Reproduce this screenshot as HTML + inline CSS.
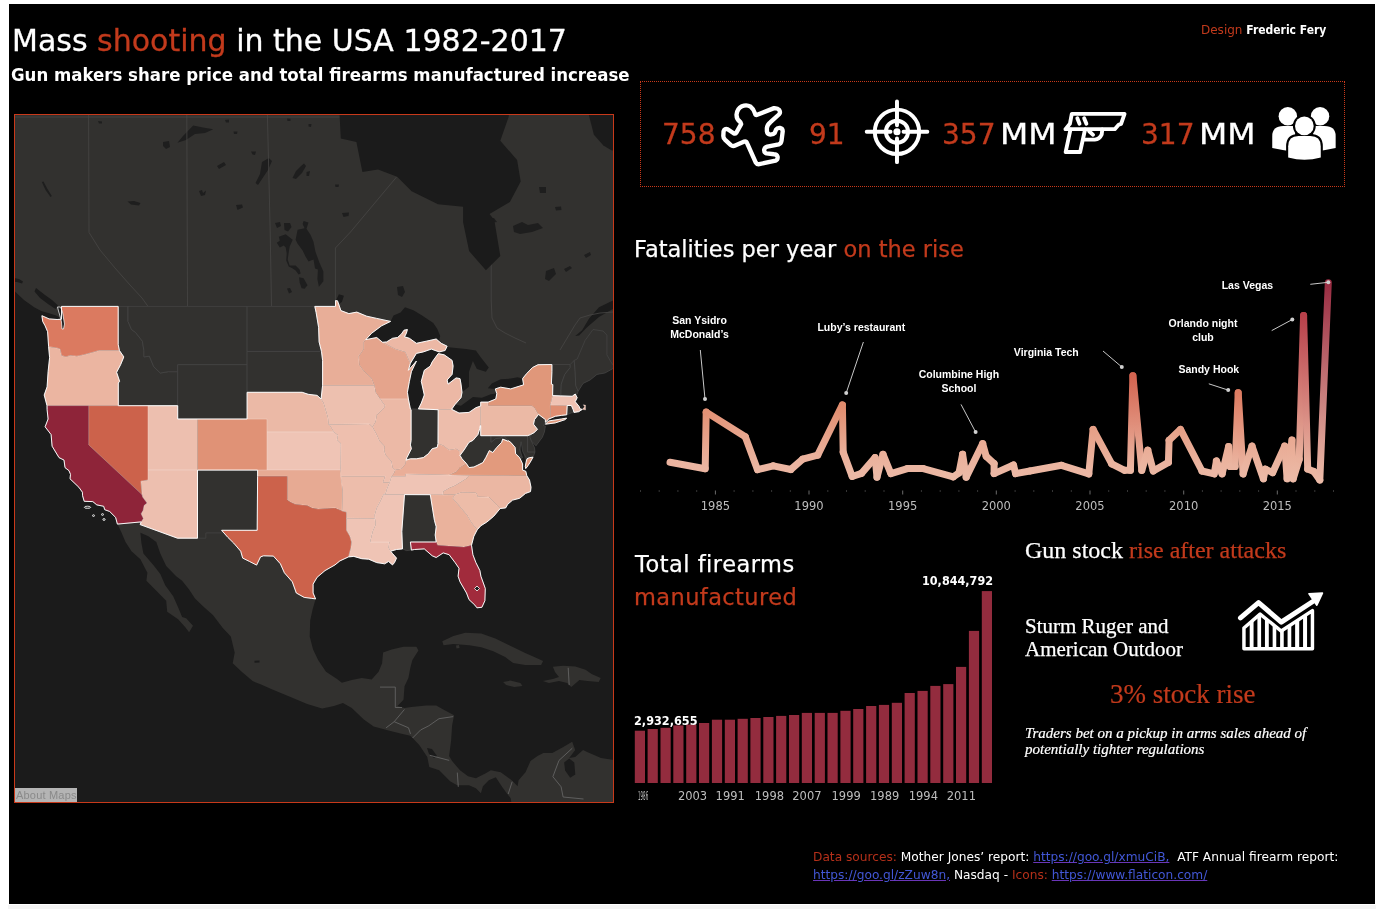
<!DOCTYPE html>
<html><head><meta charset="utf-8">
<style>
html,body{margin:0;padding:0;background:#fff;width:1395px;height:909px;overflow:hidden}
#dash{position:absolute;left:9px;top:4px;width:1366px;height:900px;background:#000}
#strip{position:absolute;left:8px;top:905px;width:1368px;height:4px;background:#f4f4f4}
.t{position:absolute;white-space:nowrap;font-family:"DejaVu Sans","Liberation Sans",sans-serif;color:#fff;line-height:1}
.r{color:#c23a1c}
.serif{font-family:"Liberation Serif","Times New Roman",serif}
</style></head><body>
<div id="dash"></div>
<div id="strip"></div>
<svg width="600" height="689" viewBox="0 0 600 689" style="position:absolute;left:14px;top:114px">
<rect width="600" height="689" fill="#1b1b1b"/>
<path d="M670.4,-38.0L670.4,170.9L606.8,183.3L597.9,187.1L585.0,193.2L575.1,204.4L568.1,216.2L561.2,222.1L565.1,221.4L573.1,213.3L585.0,202.9L597.9,195.4L610.8,190.9L627.7,193.9L670.4,236.5L600.9,253.5L591.0,259.0L583.0,260.4L576.1,266.0L569.1,269.4L564.2,277.2L563.2,280.0L563.2,283.7L561.2,287.7L565.1,292.4L566.1,294.9L571.6,296.1L571.6,291.1L569.1,290.7L570.6,292.8L568.1,295.5L564.7,297.7L560.0,298.4L557.2,299.0L552.7,300.8L547.3,301.4L541.3,302.3L534.8,305.0L531.4,308.3L529.4,311.5L531.4,312.2L530.4,318.0L528.4,323.2L522.0,331.8L517.5,327.1L520.5,333.7L521.0,337.9L519.1,343.2L515.0,349.9L511.7,354.2L511.5,348.6L509.6,339.8L508.1,327.7L506.6,333.4L507.6,341.1L508.6,348.6L508.6,356.1L511.8,357.3L512.8,361.7L515.5,366.0L517.0,373.3L516.5,377.6L511.5,379.4L505.6,384.3L498.6,386.1L493.7,390.3L491.7,393.9L486.2,394.5L479.8,402.2L472.8,408.1L466.9,411.7L463.2,415.8L459.9,422.2L457.5,431.2L458.9,440.7L461.9,448.6L465.9,456.6L466.9,462.2L471.3,474.5L470.9,486.7L467.9,493.3L462.9,493.8L460.9,491.1L455.0,485.6L452.5,479.0L446.0,467.8L444.1,462.2L445.0,454.3L441.1,448.6L435.1,440.7L429.2,438.9L422.2,443.5L418.2,441.8L410.3,434.9L400.4,435.5L397.4,436.1L392.4,436.6L388.5,434.9L382.5,435.5L376.6,437.2L378.5,439.5L382.5,444.1L380.5,448.6L378.5,450.9L374.6,447.5L370.6,449.8L362.7,448.6L354.7,445.2L347.8,444.7L339.8,442.4L334.5,442.9L325.9,446.9L321.0,450.9L311.0,456.6L303.1,463.3L299.1,470.1L299.1,479.0L301.6,484.9L298.6,495.5L296.2,506.4L295.7,522.6L299.1,535.4L304.1,546.1L312.0,557.7L323.0,565.0L327.9,568.7L337.8,566.0L347.8,564.0L357.7,565.5L364.6,557.7L368.1,549.2L369.1,538.6L377.6,535.4L389.5,532.8L402.4,532.8L404.4,536.5L398.4,546.1L396.4,553.4L394.4,564.0L390.5,572.3L389.5,585.8L383.5,592.0L390.5,594.1L397.4,593.0L412.3,591.5L422.2,591.5L430.2,596.1L440.1,601.3L438.1,611.5L437.1,626.8L435.1,642.0L438.1,647.1L446.0,656.2L454.0,662.2L461.9,664.2L471.8,659.2L476.8,656.2L486.7,658.2L497.7,666.2L503.6,672.2L504.6,666.2L511.5,658.2L516.5,647.1L523.5,642.0L529.4,639.0L538.3,639.0L549.3,632.9L558.2,627.8L561.2,636.0L555.2,644.1L561.2,643.1L569.1,636.0L573.1,638.0L587.0,644.1L600.9,646.1L670.4,646.1L670.4,751.9L471.8,751.9L491.7,727.1L496.7,712.2L498.6,697.2L496.7,684.2L492.7,679.2L487.7,672.2L481.8,663.2L474.8,666.2L468.9,672.2L466.9,679.2L461.9,674.2L455.0,671.2L443.1,671.2L436.1,667.2L425.2,656.2L415.3,653.1L413.3,643.1L405.3,630.9L396.4,621.7L387.5,619.7L374.6,616.6L359.7,612.6L349.8,605.4L337.8,594.1L328.9,588.9L320.0,592.0L308.1,594.6L293.2,590.0L278.3,583.7L258.4,575.4L246.5,570.2L238.6,567.1L227.7,557.7L218.7,549.2L220.7,538.6L216.8,522.6L208.8,514.0L198.9,501.0L189.0,492.2L181.0,484.5L175.1,475.6L168.1,466.7L162.2,462.2L152.2,452.0L146.3,439.5L142.3,428.0L134.4,422.2L126.4,418.7L127.4,429.1L129.4,439.5L139.3,450.9L146.3,460.0L151.2,471.2L159.2,482.3L164.1,493.3L168.1,503.1L172.1,504.2L179.0,511.8L175.1,518.3L171.1,512.9L164.1,505.3L153.2,497.7L152.2,486.7L142.3,476.7L132.4,466.7L133.4,458.8L126.4,445.2L117.5,437.2L111.5,428.0L107.6,418.7L103.4,410.1L101.6,403.4L95.7,397.5L90.7,395.7L89.7,392.3L82.8,390.9L78.8,387.6L70.2,387.3L68.6,381.8L68.4,378.2L64.9,373.3L56.0,364.8L56.5,360.4L55.0,356.7L51.0,353.6L50.0,346.1L45.0,343.6L38.1,332.2L37.1,320.6L31.1,312.8L34.1,305.0L33.1,295.7L33.0,291.7L30.2,281.0L33.1,272.8L34.1,257.7L35.6,243.6L34.6,232.6L34.1,225.0L33.6,217.7L31.1,211.8L28.7,207.4L27.9,201.7L35.1,204.9L43.1,205.5L47.5,205.2L45.0,202.9L42.1,201.4L35.1,199.2L27.2,196.9L20.2,193.2L10.3,186.3L0.4,177.1L-8.6,166.2L-24.4,153.6L-123.7,41.5L-123.7,-38.0Z" fill="#32312f"/>
<path d="M428.3,527.2L439.4,522.0L451.4,518.8L467.3,519.6L481.3,524.4L495.2,531.2L511.2,539.1L523.1,544.3L529.1,547.1L527.1,551.1L511.2,551.1L499.2,549.1L491.2,543.1L479.3,537.2L467.3,533.2L455.4,531.2L439.4,530.0L429.5,531.2Z" fill="#32312f"/>
<path d="M538.9,552.8L549.1,551.8L561.3,552.4L571.5,555.8L577.6,559.9L586.7,564.0L584.7,568.1L573.5,567.0L565.4,566.0L557.3,573.1L553.2,569.1L545.0,567.0L534.9,569.1L528.8,567.0L538.9,565.0L545.0,563.0L541.0,557.9Z" fill="#32312f"/>
<path d="M489.1,568.1L496.2,566.6L506.4,569.1L508.4,572.1L500.3,573.1L492.1,571.1Z" fill="#32312f"/>
<path d="M442.0,531.5L445.0,531.0L445.5,534.0L442.5,534.5Z" fill="#32312f"/>
<path d="M550.1,648.4L555.2,644.4L560.3,648.4L561.3,660.6L556.2,663.7L551.1,656.6Z" fill="#1b1b1b"/>
<path d="M240.5,546.8L245.5,546.5L245.5,548.5L240.5,548.8Z" fill="#1b1b1b"/>
<path d="M413.0,634.0L418.0,635.0L423.0,642.0L420.0,644.0L415.0,640.0Z" fill="#1b1b1b"/>
<path d="M366.0,573.1L381.3,573.1L381.3,593.5L388.0,593.5M398.6,624.0L406.7,615.9L414.8,611.8L425.0,604.7L439.2,602.6M372.1,613.8L380.2,607.7L390.4,595.5M380.2,607.7L394.5,613.8L396.5,619.9M415.8,641.3L435.2,646.4M443.3,658.6L444.3,672.8M498.2,667.7L494.2,680.0M558.3,634.2L545.0,646.4L538.9,662.7L547.1,672.8L549.1,683.0L569.5,685.0M554.2,553.8L555.2,571.1" fill="none" stroke="#6a6a6a" stroke-width="0.8"/>
<path d="M289.6,106.9L294.5,108.4L292.5,114.8L296.5,120.8L299.5,127.7L301.4,137.6L305.4,148.5L309.4,157.4L309.4,167.3L304.9,172.7L303.4,165.3L303.9,155.4L301.0,154.4L299.5,145.5L294.5,147.5L291.5,142.5L288.6,136.6L283.6,129.7L281.6,125.7L283.6,115.8L290.6,114.3L288.6,109.9Z" fill="#1e1e1e"/>
<path d="M264.8,122.7L271.7,120.3L278.7,125.7L275.7,132.6L274.7,138.6L273.7,145.5L275.7,151.4L281.6,151.4L285.6,155.4L286.6,159.4L284.6,160.4L281.6,156.4L278.7,154.4L274.7,152.4L272.2,146.5L272.7,139.6L271.7,133.6L269.8,131.6L265.8,133.6L262.8,128.7L265.8,126.7Z" fill="#1e1e1e"/>
<path d="M285.1,163.3L289.6,164.3L293.5,171.2L290.6,174.7L287.6,174.2L285.6,168.3Z" fill="#1e1e1e"/>
<path d="M261.0,109.0L266.0,108.0L267.0,112.0L263.0,114.0Z" fill="#1e1e1e"/>
<path d="M270.0,109.0L276.0,109.0L277.5,113.0L274.0,117.5L270.5,116.0Z" fill="#1e1e1e"/>
<path d="M273.0,174.5L276.0,174.0L278.0,178.0L275.0,179.5Z" fill="#1e1e1e"/>
<path d="M163.4,28.8L169.0,22.0L179.2,11.6L189.0,13.5L199.3,15.2L191.0,19.0L181.0,20.0L172.0,26.0Z" fill="#1e1e1e"/>
<path d="M149.0,28.0L155.0,27.0L156.0,33.0L152.0,35.0L149.0,32.0Z" fill="#1e1e1e"/>
<path d="M254.8,43.9L258.0,47.0L254.0,56.0L250.0,62.0L244.0,71.0L241.5,69.0L246.0,60.0L248.0,48.0Z" fill="#1e1e1e"/>
<path d="M290.0,49.6L292.0,52.0L288.0,59.0L282.0,65.0L278.5,64.0L282.0,57.0L287.0,52.0Z" fill="#1e1e1e"/>
<path d="M203.0,52.0L210.0,48.0L212.0,51.0L205.0,55.0Z" fill="#1e1e1e"/>
<path d="M113.5,87.5L120.0,87.0L126.5,89.0L125.0,91.5L117.0,90.5Z" fill="#1e1e1e"/>
<path d="M27.8,68.0L29.5,67.5L33.5,75.0L37.8,82.0L36.5,83.0L31.5,76.0Z" fill="#1e1e1e"/>
<path d="M237.0,37.5L242.0,37.5L241.0,41.0L238.5,40.5Z" fill="#1e1e1e"/>
<path d="M222.0,91.0L228.0,90.5L229.0,93.5L223.5,96.0Z" fill="#1e1e1e"/>
<path d="M328.0,99.0L335.0,98.5L334.5,102.0L329.5,103.0Z" fill="#1e1e1e"/>
<path d="M185.0,77.0L188.0,76.0L189.0,79.0L192.0,76.5L191.0,81.0L187.0,82.0Z" fill="#1e1e1e"/>
<path d="M219.5,17.5L223.5,17.5L223.0,20.0L220.0,20.0Z" fill="#1e1e1e"/>
<path d="M292.5,58.0L296.0,57.0L295.0,62.0L292.5,62.0Z" fill="#1e1e1e"/>
<path d="M84.0,7.0L88.0,7.5L88.0,9.5L85.0,9.5Z" fill="#1e1e1e"/>
<path d="M211.0,6.0L215.0,5.5L215.0,8.5L212.0,8.5Z" fill="#1e1e1e"/>
<path d="M273.0,4.5L276.5,4.8L276.5,7.0L273.5,7.0Z" fill="#1e1e1e"/>
<path d="M294.5,10.0L297.5,10.0L297.0,13.0L294.5,12.5Z" fill="#1e1e1e"/>
<path d="M321.0,70.5L325.0,70.5L324.5,73.0L321.5,73.0Z" fill="#1e1e1e"/>
<path d="M474.0,105.0L480.0,104.0L483.0,108.0L476.0,109.0Z" fill="#1e1e1e"/>
<path d="M525.0,73.0L532.0,73.0L532.0,79.0L526.0,79.0Z" fill="#1e1e1e"/>
<path d="M499.0,112.0L508.0,108.0L514.0,111.0L524.0,109.0L529.0,114.0L518.0,118.0L506.0,120.0L500.0,118.0Z" fill="#1e1e1e"/>
<path d="M532.0,157.0L540.0,154.0L542.0,160.0L535.0,167.0L531.0,165.0Z" fill="#1e1e1e"/>
<path d="M541.0,93.0L547.0,92.5L547.5,96.0L542.0,96.5Z" fill="#1e1e1e"/>
<path d="M383.0,173.0L389.0,172.0L391.0,178.0L388.0,183.0L384.0,181.0Z" fill="#1e1e1e"/>
<path d="M550.0,155.0L556.0,152.0L558.0,154.0L552.0,158.0Z" fill="#1e1e1e"/>
<path d="M570.0,141.0L576.0,138.0L577.0,141.0L572.0,144.0Z" fill="#1e1e1e"/>
<path d="M0.0,3.0L325.8,3.0M74.6,0.0L75.0,118.4L86.0,136.0L101.0,154.0L116.0,171.0L128.0,184.0L133.7,192.0M172.8,0.0L173.5,192.0M253.4,0.0L256.2,118.0L257.5,192.0M321.4,192.0L321.4,134.0L336.5,118.0L382.4,63.2M477.2,148.0L477.2,186.0L478.0,204.0L483.0,214.0L491.0,219.0L501.0,224.0L512.0,229.0M546.0,236.0L552.0,226.0L561.0,211.0L566.0,204.0L576.0,201.0L586.0,199.0L599.0,198.0" fill="none" stroke="#474645" stroke-width="0.8"/>
<path d="M325.6,-2.0L325.6,1.6L326.8,24.4L342.4,28.0L348.4,58.0L364.0,55.6L383.2,62.8L397.6,77.2L424.0,90.3L449.1,92.7L449.1,108.3L455.1,137.1L471.9,156.3L486.3,141.9L480.3,106.0L475.5,100.0L495.9,88.0L506.7,67.6L503.1,46.0L486.3,26.8L494.7,2.8L495.0,-2.0Z" fill="#1b1b1b"/>
<path d="M575.0,-2.0L575.0,1.6L579.9,20.8L589.4,31.6L597.8,36.4L602.0,36.0L602.0,-2.0Z" fill="#1b1b1b"/>
<path d="M22.0,174.0L31.0,181.0L38.0,186.0L44.0,191.5L41.5,195.0L34.0,190.0L26.0,184.0L20.5,177.5Z" fill="#1b1b1b"/>
<path d="M0.0,164.0L5.0,165.0L9.0,167.5L8.0,169.5L3.0,168.0L0.0,168.0Z" fill="#1b1b1b"/>
<g fill="#1b1b1b"><path d="M351.7,225.7L362.7,223.5L368.6,227.9L372.6,227.9L378.5,224.3L383.5,223.5L387.5,219.9L390.0,216.2L393.4,215.5L392.4,219.2L390.5,222.8L395.4,224.3L402.4,229.3L412.3,227.2L422.2,225.0L427.2,229.3L425.2,226.4L426.2,222.1L423.2,214.8L419.3,208.9L408.1,201.4L399.4,196.2L391.0,193.3L386.5,198.4L379.5,201.4L376.6,207.4L367.6,211.8L357.7,219.2Z"/><path d="M394.4,285.0L396.4,295.1L397.1,295.7L404.4,294.9L407.3,289.1L410.3,281.0L407.3,267.3L410.3,256.3L416.3,252.1L418.2,247.9L424.2,239.6L425.2,237.9L417.3,235.1L409.3,237.9L402.4,239.4L396.4,249.3L394.4,256.3L402.4,247.1L397.4,257.7L395.4,267.3L393.4,278.3Z"/><path d="M438.1,246.4L439.1,252.1L438.1,260.4L433.1,266.0L434.1,270.1L442.1,263.9L446.0,264.6L447.0,270.1L448.0,278.3L455.0,272.8L455.0,257.7L458.9,247.1L462.9,254.9L471.8,257.7L474.8,253.5L466.9,243.6L461.9,236.5L452.0,235.1L437.1,233.6L431.1,232.9L425.2,237.2L424.2,239.6L430.2,240.8Z"/><path d="M437.6,295.3L445.0,299.0L455.0,298.4L461.9,293.7L466.7,292.0L474.2,288.1L481.8,285.0L482.8,279.6L476.8,280.3L467.9,283.7L458.9,283.0L447.0,291.7L441.1,290.4Z"/><path d="M481.3,274.9L486.7,273.2L496.7,274.9L505.6,272.1L509.6,270.8L508.6,264.6L503.6,263.2L496.7,264.6L486.7,265.3L477.8,269.4L473.8,274.2Z"/><path d="M323.0,190.9L327.9,187.9L329.9,181.7L324.9,180.2L322.0,186.3Z"/></g>
<g fill="#32312f" stroke="#4a4a4a" stroke-width="0.6"><path d="M104.2,192.4L114.0,192.4L114.0,207.4L117.5,215.5L121.5,218.4L128.4,227.2L129.9,236.5L129.9,242.9L135.4,242.2L139.8,252.8L146.3,259.0L154.2,257.7L163.7,257.7L163.7,291.7L104.3,291.7L104.3,269.0L105.6,267.3L102.6,258.3L106.6,250.7L109.8,242.9L105.4,236.5L104.2,230.5Z"/><path d="M114.0,192.4L114.0,207.4L117.5,215.5L121.5,218.4L128.4,227.2L129.9,236.5L129.9,242.9L135.4,242.2L139.8,252.8L146.3,259.0L154.2,257.7L163.7,257.7L163.7,250.7L233.1,250.7L233.1,192.4Z"/><path d="M163.7,250.7L233.1,250.7L233.1,305.0L163.7,305.0Z"/><path d="M183.5,356.1L243.6,356.1L243.6,362.3L243.2,416.3L207.6,416.3L208.5,418.9L191.8,418.9L191.8,424.2L183.5,424.2Z"/><path d="M233.1,192.4L300.8,192.4L302.1,198.4L304.6,213.3L305.1,227.9L307.5,237.4L233.1,237.4Z"/><path d="M233.1,237.4L307.5,237.4L308.6,246.4L308.6,271.4L307.1,285.0L303.1,281.4L294.2,280.3L288.2,278.3L233.1,278.3Z"/><path d="M397.1,294.9L424.2,295.7L424.0,329.6L423.2,333.4L418.2,334.7L414.3,339.8L409.3,343.6L402.4,344.8L396.4,344.8L392.1,346.1L392.9,343.6L397.4,334.7L396.4,330.9L397.1,326.4Z"/><path d="M390.5,380.6L416.3,380.6L420.4,406.2L422.2,412.8L421.2,421.0L422.2,428.0L396.4,428.0L397.4,436.1L392.4,436.6L388.5,434.9L387.8,417.5Z"/><path d="M466.7,309.7L465.9,314.1L463.9,320.6L458.9,326.4L455.0,328.3L450.0,336.0L446.0,341.4L448.0,344.8L452.3,349.4L455.0,353.6L459.9,353.0L463.9,351.1L468.9,348.6L471.8,343.6L475.3,336.6L478.8,338.5L482.8,333.4L487.7,328.3L488.7,325.1L493.7,327.1L494.5,326.8L489.7,321.9L486.7,323.8L481.8,324.5L477.0,328.3L477.0,321.7L466.7,321.7Z"/><path d="M477.0,321.7L513.6,321.7L513.6,337.9L521.0,337.9L519.1,343.2L512.5,344.2L508.6,337.3L507.1,327.7L505.6,336.0L508.6,343.6L501.6,339.8L501.1,333.4L496.7,328.3L494.5,326.8L489.7,321.9L486.7,323.8L481.8,324.5L477.0,328.3Z"/><path d="M513.6,321.7L516.5,320.6L516.0,323.2L517.5,327.1L520.5,333.7L521.0,337.9L513.6,337.9Z"/><path d="M524.5,300.4L531.4,305.6L531.4,308.3L529.4,311.5L531.4,312.2L530.4,318.0L528.4,323.2L522.0,331.8L517.5,327.1L516.0,323.2L516.5,320.6L520.0,318.7L523.5,315.4L519.5,310.2L520.5,305.6Z"/><path d="M553.2,291.5L557.4,291.5L559.2,295.7L560.0,298.4L557.2,299.0L552.7,300.8Z"/><path d="M537.9,250.5L556.2,250.5L556.2,253.5L550.8,260.4L547.3,270.1L546.8,281.9L538.6,281.6L538.8,270.5L537.4,270.1L537.9,257.7Z"/><path d="M556.2,250.5L560.2,246.4L561.2,257.7L561.7,271.4L564.2,277.2L563.2,280.0L561.2,280.0L558.2,282.3L546.8,281.9L547.3,270.1L550.8,260.4L556.2,253.5Z"/><path d="M560.2,246.4L563.2,245.0L571.1,226.4L579.0,215.5L589.0,217.0L592.9,221.1L592.9,240.8L596.9,247.9L600.9,253.5L591.0,259.0L583.0,260.4L576.1,266.0L569.1,269.4L564.2,277.2L561.7,271.4L561.2,257.7Z"/></g>
<g stroke="#ffffff" stroke-width="0.8" stroke-opacity="0.22" stroke-linejoin="round"><path d="M47.5,192.4L104.2,192.4L104.2,230.5L105.4,236.5L84.9,236.5L81.8,237.5L69.9,240.8L62.9,242.2L56.0,241.5L52.0,242.9L47.5,241.5L46.0,235.1L43.1,234.1L36.1,232.9L34.6,232.6L34.1,225.0L33.6,217.7L31.1,211.8L28.7,207.4L27.9,201.7L35.1,204.9L43.1,205.5L47.5,205.2Z" fill="#db7a60"/><path d="M34.6,232.6L36.1,232.9L43.1,234.1L46.0,235.1L47.5,241.5L52.0,242.9L56.0,241.5L62.9,242.2L69.9,240.8L81.8,237.5L84.9,236.5L105.4,236.5L109.8,242.9L106.6,250.7L102.6,258.3L105.6,267.3L104.3,269.0L104.3,291.7L74.8,291.7L33.0,291.7L30.2,281.0L33.1,272.8L34.1,257.7L35.6,243.6Z" fill="#ebb5a1"/><path d="M33.0,291.7L74.8,291.7L74.8,330.9L128.1,380.6L128.7,383.1L133.1,389.1L130.1,391.5L129.2,396.3L127.2,399.8L129.4,404.6L127.2,407.9L103.4,410.1L101.6,403.4L95.7,397.5L90.7,395.7L89.7,392.3L82.8,390.9L78.8,387.6L70.2,387.3L68.6,381.8L68.4,378.2L64.9,373.3L56.0,364.8L56.5,360.4L55.0,356.7L51.0,353.6L50.0,346.1L45.0,343.6L38.1,332.2L37.1,320.6L31.1,312.8L34.1,305.0L33.1,295.7Z" fill="#8e2439"/><path d="M74.8,291.7L134.0,291.7L134.0,366.0L126.9,367.2L128.1,380.6L74.8,330.9Z" fill="#cc624b"/><path d="M134.0,291.7L163.7,291.7L163.7,305.0L183.5,305.0L183.5,356.1L134.0,356.1Z" fill="#edbfaf"/><path d="M134.0,356.1L183.5,356.1L183.5,424.2L163.5,424.2L126.2,410.6L127.2,407.9L129.4,404.6L127.2,399.8L129.2,396.3L130.1,391.5L133.1,389.1L128.7,383.1L128.1,380.6L126.9,367.2L134.0,366.0Z" fill="#edbfaf"/><path d="M183.5,305.0L253.0,305.0L253.0,356.1L183.5,356.1Z" fill="#e09276"/><path d="M233.1,278.3L288.2,278.3L294.2,280.3L303.1,281.4L307.1,285.0L309.6,289.1L312.0,297.1L314.0,303.7L314.5,310.2L315.3,310.5L319.9,318.0L253.0,318.0L253.0,305.0L233.1,305.0Z" fill="#ebb9a6"/><path d="M253.0,318.0L319.9,318.0L324.0,321.3L323.0,325.8L326.9,329.6L326.7,356.1L253.0,356.1Z" fill="#efc4b5"/><path d="M243.6,356.1L326.7,356.1L328.6,375.8L328.1,397.0L321.0,393.9L313.0,394.5L304.1,395.1L298.1,393.9L293.2,391.5L281.3,390.3L276.3,387.9L273.3,385.9L273.3,362.3L243.6,362.3Z" fill="#e7aa93"/><path d="M243.6,362.3L273.3,362.3L273.3,385.9L276.3,387.9L281.3,390.3L293.2,391.5L298.1,393.9L304.1,395.1L313.0,394.5L321.0,393.9L328.1,397.0L332.5,398.0L332.5,416.3L335.9,422.2L337.6,428.0L336.9,433.8L334.5,442.9L325.9,446.9L321.0,450.9L311.0,456.6L303.1,463.3L299.1,470.1L299.1,479.0L301.6,484.9L297.2,484.3L290.2,483.4L282.3,479.0L278.3,467.8L270.4,458.8L266.4,449.8L259.4,442.1L249.5,441.8L246.5,442.9L242.6,451.1L235.6,447.5L228.7,444.1L226.7,437.2L219.7,429.1L213.8,423.3L207.6,416.3L243.2,416.3Z" fill="#cc624b"/><path d="M300.8,192.4L321.5,192.4L321.5,186.6L323.5,186.8L326.9,196.6L334.9,199.6L342.8,198.1L352.7,202.2L362.7,204.4L376.6,207.4L367.6,211.8L357.7,219.2L351.7,225.7L349.8,227.9L349.8,235.1L344.8,242.2L345.3,250.7L349.8,257.0L357.7,264.6L360.5,271.4L308.6,271.4L308.6,246.4L307.5,237.4L305.1,227.9L304.6,213.3L302.1,198.4Z" fill="#e8ae98"/><path d="M308.6,271.4L360.5,271.4L361.7,278.3L366.2,285.0L371.1,291.7L369.6,294.4L362.7,301.0L361.7,307.6L358.5,313.1L355.4,310.1L315.3,310.5L314.5,310.2L314.0,303.7L312.0,297.1L309.6,289.1L307.1,285.0Z" fill="#edc0af"/><path d="M315.3,310.5L355.4,310.1L358.5,313.1L362.7,320.6L365.6,327.1L370.6,332.2L370.1,336.0L371.6,341.1L377.6,347.4L378.5,353.6L381.2,356.1L380.0,359.2L377.6,362.3L375.6,368.4L368.9,368.4L371.1,362.3L326.7,362.3L326.7,356.1L326.9,329.6L323.0,325.8L324.0,321.3L319.9,318.0Z" fill="#eebfae"/><path d="M326.7,362.3L371.1,362.3L368.9,368.4L375.6,368.4L373.1,374.6L371.6,379.4L369.5,380.6L366.6,386.7L362.7,393.9L360.7,401.0L361.0,404.6L332.5,404.3L332.5,398.0L328.1,397.0L328.6,375.8Z" fill="#edbdab"/><path d="M332.5,404.3L361.0,404.6L361.7,410.5L358.7,417.5L356.7,425.7L356.3,428.0L375.3,428.0L374.6,433.8L376.6,437.2L378.5,439.5L382.5,444.1L380.5,448.6L378.5,450.9L374.6,447.5L370.6,449.8L362.7,448.6L354.7,445.2L347.8,444.7L339.8,442.4L334.5,442.9L336.9,433.8L337.6,428.0L335.9,422.2L332.5,416.3Z" fill="#efc4b5"/><path d="M351.7,225.7L362.7,223.5L368.6,228.3L381.5,235.1L391.4,237.9L394.4,245.0L396.4,249.3L394.4,256.3L402.4,247.1L397.4,257.7L395.4,267.3L393.4,278.3L394.4,285.0L366.2,285.0L361.7,278.3L360.5,271.4L357.7,264.6L349.8,257.0L345.3,250.7L344.8,242.2L349.8,235.1L349.8,227.9Z" fill="#e5a48c"/><path d="M366.2,285.0L394.4,285.0L396.4,295.1L397.1,295.7L397.1,326.4L396.4,330.9L397.4,334.7L392.9,343.6L392.1,346.1L391.4,349.9L387.5,354.8L381.2,356.1L378.5,353.6L377.6,347.4L371.6,341.1L370.1,336.0L370.6,332.2L365.6,327.1L362.7,320.6L358.5,313.1L361.7,307.6L362.7,301.0L369.6,294.4L371.1,291.7Z" fill="#ecb9a6"/><path d="M369.5,380.6L390.5,380.6L387.8,417.5L388.5,434.9L382.5,435.5L376.6,437.2L374.6,433.8L375.3,428.0L356.3,428.0L356.7,425.7L358.7,417.5L361.7,410.5L361.0,404.6L360.7,401.0L362.7,393.9L366.6,386.7Z" fill="#efc4b5"/><path d="M404.4,294.9L424.2,295.7L437.6,295.3L441.1,290.4L447.0,283.7L448.0,278.3L447.0,270.1L446.0,264.6L442.1,263.9L434.1,270.1L433.1,266.0L438.1,260.4L439.1,252.1L438.1,246.4L430.2,240.8L424.2,239.6L418.2,247.9L416.3,252.1L410.3,256.3L407.3,267.3L410.3,281.0L407.3,289.1Z" fill="#ecb8a5"/><path d="M368.6,228.3L381.5,235.1L391.4,237.9L394.4,245.0L396.4,249.3L402.4,239.4L409.3,237.9L417.3,235.1L425.2,237.9L431.1,236.5L433.1,232.2L427.2,229.3L422.2,225.0L412.3,227.2L402.4,229.3L395.4,224.3L390.5,222.8L392.4,219.2L393.4,215.5L390.0,216.2L387.5,219.9L383.5,223.5L378.5,224.3L372.6,227.9Z" fill="#ecb8a5"/><path d="M381.2,356.1L387.5,354.8L391.4,349.9L392.1,346.1L396.4,344.8L402.4,344.8L409.3,343.6L414.3,339.8L418.2,334.7L423.2,333.4L424.0,329.6L429.2,331.5L435.1,336.0L442.1,334.7L446.0,337.3L446.0,341.4L448.0,344.8L452.3,349.4L446.0,353.6L442.1,358.0L435.3,361.0L391.7,360.1L391.7,362.3L377.6,362.3L380.0,359.2Z" fill="#eaae98"/><path d="M369.5,380.6L371.6,379.4L373.1,374.6L375.6,368.4L377.6,362.3L391.7,362.3L391.7,360.1L435.3,361.0L455.2,361.2L452.0,364.8L446.0,368.4L441.1,371.5L435.1,373.9L429.2,377.6L429.0,380.8L390.5,380.6Z" fill="#efc4b5"/><path d="M424.2,295.7L437.6,295.3L445.0,299.0L455.0,298.4L461.9,293.7L466.7,292.0L466.7,309.7L465.9,314.1L463.9,320.6L458.9,326.4L455.0,328.3L450.0,336.0L446.0,341.4L446.0,337.3L442.1,334.7L435.1,336.0L429.2,331.5L424.0,329.6Z" fill="#edbdab"/><path d="M416.3,380.6L429.0,380.8L441.1,380.6L438.6,384.3L445.0,391.5L450.0,397.5L453.0,401.0L457.9,409.3L463.2,415.8L459.9,422.2L457.5,431.2L452.0,432.6L450.0,433.0L423.6,431.3L422.2,428.0L421.2,421.0L422.2,412.8L420.4,406.2Z" fill="#eab29c"/><path d="M396.4,428.0L422.2,428.0L423.6,431.3L450.0,433.0L452.0,432.6L457.5,431.2L458.9,440.7L461.9,448.6L465.9,456.6L466.9,462.2L471.3,474.5L470.9,486.7L467.9,493.3L462.9,493.8L460.9,491.1L455.0,485.6L452.5,479.0L446.0,467.8L444.1,462.2L445.0,454.3L441.1,448.6L435.1,440.7L429.2,438.9L422.2,443.5L418.2,441.8L410.3,434.9L400.4,435.5L397.4,436.1Z" fill="#a12b3c"/><path d="M441.1,380.6L448.0,378.2L461.5,378.8L462.6,379.4L463.9,382.8L474.8,383.1L486.2,394.5L479.8,402.2L472.8,408.1L466.9,411.7L463.2,415.8L457.9,409.3L453.0,401.0L450.0,397.5L445.0,391.5L438.6,384.3Z" fill="#edbca8"/><path d="M429.0,380.8L441.1,380.6L448.0,378.2L461.5,378.8L462.6,379.4L463.9,382.8L474.8,383.1L486.2,394.5L491.7,393.9L493.7,390.3L498.6,386.1L505.6,384.3L511.5,379.4L516.5,377.6L517.0,373.3L515.5,366.0L512.8,361.7L455.2,361.2L452.0,364.8L446.0,368.4L441.1,371.5L435.1,373.9L429.2,377.6Z" fill="#ebb7a3"/><path d="M435.3,361.0L455.2,361.2L512.8,361.7L511.8,357.3L508.6,356.1L508.6,349.9L505.6,343.6L501.6,339.8L501.1,333.4L496.7,328.3L494.5,326.8L493.7,327.1L488.7,325.1L487.7,328.3L482.8,333.4L478.8,338.5L475.3,336.6L471.8,343.6L468.9,348.6L463.9,351.1L459.9,353.0L455.0,353.6L452.3,349.4L446.0,353.6L442.1,358.0Z" fill="#e29a7d"/><path d="M515.3,343.7L519.0,343.2L516.0,348.6L513.0,353.0L511.7,354.6L511.3,352.4L512.0,348.6L513.0,344.8Z" fill="#e29a7d"/><path d="M466.7,292.0L466.7,288.1L474.2,288.1L474.2,291.7L517.9,291.7L520.5,293.7L524.5,300.4L520.5,305.6L519.5,310.2L523.5,315.4L520.0,318.7L516.5,320.6L513.6,321.7L466.7,321.7Z" fill="#ebb9a5"/><path d="M474.2,291.7L474.2,288.1L481.8,285.0L482.8,279.6L481.3,274.9L486.7,273.2L496.7,274.9L505.6,272.1L509.6,270.8L508.6,264.6L512.5,259.7L518.5,253.5L524.0,250.7L537.9,250.5L537.9,257.7L537.4,270.1L538.8,270.5L538.6,281.6L536.4,291.1L536.6,302.3L534.8,305.0L531.4,308.3L531.4,305.6L524.5,300.4L520.5,293.7L517.9,291.7Z" fill="#e0977a"/><path d="M531.4,310.2L541.3,308.9L551.3,305.6L552.6,304.1L547.3,305.0L534.4,307.0Z" fill="#e0977a"/><path d="M536.4,291.1L553.2,291.5L552.7,300.8L547.3,301.4L541.3,302.3L534.8,305.0L536.6,302.3Z" fill="#df8e72"/><path d="M536.4,291.1L538.6,281.6L546.8,281.9L558.2,282.3L561.2,280.0L563.2,283.7L561.2,287.7L565.1,292.4L566.1,294.9L571.6,296.1L571.6,291.1L569.1,290.7L570.6,292.8L568.1,295.5L564.7,297.7L560.0,298.4L559.2,295.7L557.4,291.5L553.2,291.5Z" fill="#efc2b3"/></g>
<path d="M43.5,193.0L46.5,193.0L48.5,198.0L49.5,204.0L50.5,210.0L49.5,215.0L48.0,215.0L47.5,208.0L46.0,202.0L44.5,197.0Z" fill="#1b1b1b" stroke="#fff" stroke-width="0.8" stroke-opacity="0.9"/>
<path d="M463.0,472.0L465.5,474.5L463.0,477.0L460.5,474.5Z" fill="#1b1b1b" stroke="#fff" stroke-width="0.8"/>
<ellipse cx="73.5" cy="393.3" rx="3.2" ry="1.1" fill="#3a3a3a" stroke="#fff" stroke-width="0.8"/>
<ellipse cx="79.5" cy="401.6" rx="1.0" ry="0.9" fill="#3a3a3a" stroke="#fff" stroke-width="0.8"/>
<ellipse cx="88.5" cy="400.5" rx="1.0" ry="0.9" fill="#3a3a3a" stroke="#fff" stroke-width="0.8"/>
<ellipse cx="90" cy="405.5" rx="1.2" ry="0.9" fill="#3a3a3a" stroke="#fff" stroke-width="0.8"/>
<path d="M28.7,207.4L31.1,211.8L33.6,217.7L34.1,225.0L34.6,232.6L35.6,243.6L34.1,257.7L33.1,272.8L30.2,281.0L33.0,291.7L33.1,295.7L34.1,305.0L31.1,312.8L37.1,320.6L38.1,332.2L45.0,343.6L50.0,346.1L51.0,353.6L55.0,356.7L56.5,360.4L56.0,364.8L64.9,373.3L68.4,378.2L68.6,381.8L70.2,387.3L78.8,387.6L82.8,390.9L89.7,392.3L90.7,395.7L95.7,397.5L101.6,403.4L103.4,410.1L127.2,407.9L126.2,410.6L163.5,424.2L183.5,424.2L183.5,356.1L243.6,356.1L243.6,362.3L243.2,416.3L207.6,416.3L213.8,423.3L219.7,429.1L226.7,437.2L228.7,444.1L235.6,447.5L242.6,451.1L246.5,442.9L249.5,441.8L259.4,442.1L266.4,449.8L270.4,458.8L278.3,467.8L282.3,479.0L290.2,483.4L297.2,484.3L301.6,484.9L299.1,479.0L299.1,470.1L303.1,463.3L311.0,456.6L321.0,450.9L325.9,446.9L334.5,442.9L339.8,442.4L347.8,444.7L354.7,445.2L362.7,448.6L370.6,449.8L374.6,447.5L378.5,450.9L380.5,448.6L382.5,444.1L378.5,439.5L376.6,437.2L382.5,435.5L388.5,434.9L387.8,417.5L390.5,380.6L416.3,380.7L420.4,406.2L422.2,412.8L421.2,421.0L422.2,428.0L396.4,428.0L397.4,436.1L400.4,435.5L410.3,434.9L418.2,441.8L422.2,443.5L429.2,438.9L435.1,440.7L441.1,448.6L445.0,454.3L444.1,462.2L446.0,467.8L452.5,479.0L455.0,485.6L460.9,491.1L462.9,493.8L467.9,493.3L470.9,486.7L471.3,474.5L466.9,462.2L465.9,456.6L461.9,448.6L458.9,440.7L457.5,431.2L459.9,422.2L463.2,415.8L466.9,411.7L472.8,408.1L479.8,402.2L486.2,394.5L491.7,393.9L493.7,390.3L498.6,386.1L505.6,384.3L511.5,379.4L516.5,377.6L517.0,373.3L515.5,366.0L512.8,361.7L511.8,357.3L508.6,356.1L508.6,349.9L505.6,343.6L501.6,339.8L501.1,333.4L496.7,328.3L494.5,326.8L493.7,327.1L488.7,325.1L487.7,328.3L482.8,333.4L478.8,338.5L475.3,336.6L471.8,343.6L468.9,348.6L463.9,351.1L459.9,353.0L455.0,353.6L452.3,349.4L448.0,344.8L446.0,341.4L450.0,336.0L455.0,328.3L458.9,326.4L463.9,320.6L465.9,314.1L466.3,311.6L466.7,311.6L466.7,321.7L513.6,321.7L516.5,320.6L520.0,318.7L523.5,315.4L519.5,310.2L520.5,305.6L524.5,300.4L531.4,305.6L531.4,308.3L534.8,305.0L541.3,302.3L547.3,301.4L552.7,300.8L553.2,291.5L557.4,291.5L559.2,295.7L560.0,298.4L564.7,297.7L568.1,295.5L568.2,295.4L566.1,294.9L565.1,292.4L561.2,287.7L563.2,283.7L561.2,280.0L558.2,282.3L546.8,281.9L538.6,281.6L538.8,270.5L537.4,270.1L537.9,257.7L537.9,250.5L524.0,250.7L518.5,253.5L512.5,259.7L508.6,264.6L509.6,270.8L505.6,272.1L496.7,274.9L486.7,273.2L481.3,274.9L482.8,279.6L481.8,285.0L474.2,288.1L466.7,288.1L466.7,292.0L461.9,293.7L455.0,298.4L445.0,299.0L437.6,295.3L441.1,290.4L447.0,283.7L448.0,278.3L447.0,270.1L446.0,264.6L442.1,263.9L434.1,270.1L433.1,266.0L438.1,260.4L439.1,252.1L438.1,246.4L430.2,240.8L424.2,239.6L418.2,247.9L416.3,252.1L410.3,256.3L407.3,267.3L410.3,281.0L407.3,289.1L404.4,294.9L424.2,295.7L424.0,329.6L423.2,333.4L418.2,334.7L414.3,339.8L409.3,343.6L402.4,344.8L396.4,344.8L392.1,346.1L392.9,343.6L397.4,334.7L396.4,330.9L397.1,326.4L397.1,295.7L396.4,295.1L394.4,285.0L393.4,278.3L395.4,267.3L397.4,257.7L402.4,247.1L394.4,256.3L396.4,249.3L402.4,239.4L409.3,237.9L417.3,235.1L425.2,237.9L431.1,236.5L433.1,232.2L427.2,229.3L422.2,225.0L412.3,227.2L402.4,229.3L395.4,224.3L390.5,222.8L392.4,219.2L393.4,215.5L390.0,216.2L387.5,219.9L383.5,223.5L378.5,224.3L372.6,227.9L368.6,228.3L362.7,223.5L351.7,225.7L357.7,219.2L367.6,211.8L376.6,207.4L362.7,204.4L352.7,202.2L342.8,198.1L334.9,199.6L326.9,196.6L323.5,186.8L321.5,186.6L321.5,192.4L300.8,192.4L302.1,198.4L304.6,213.3L305.1,227.9L307.5,237.4L308.6,246.4L308.6,271.4L307.1,285.0L303.1,281.4L294.2,280.3L288.2,278.3L233.1,278.3L233.1,305.0L163.7,305.0L163.7,291.7L104.3,291.7L104.3,269.0L105.6,267.3L102.6,258.3L106.6,250.7L109.8,242.9L105.4,236.5L104.2,230.5L104.2,192.4L47.5,192.4L47.5,205.2L43.1,205.5L35.1,204.9L27.9,201.7L28.7,207.4ZM531.4,310.2L541.3,308.9L551.3,305.6L552.6,304.1L547.3,305.0L534.4,307.0L531.4,310.2ZM513.0,353.0L516.0,348.6L519.0,343.2L515.3,343.7L513.0,344.8L512.0,348.6L511.3,352.4L511.7,354.6L513.0,353.0Z" fill="none" stroke="#ffffff" stroke-width="1" stroke-opacity="0.95" stroke-linejoin="round"/>
</svg>
<div style="position:absolute;left:14px;top:114px;width:600px;height:689px;border:1px solid #c8391a;box-sizing:border-box;pointer-events:none"></div>
<div class="t" id="title" style="left:12px;top:26px;font-size:30px;-webkit-text-stroke:0.3px currentColor">Mass <span class="r">shooting</span> in the USA 1982-2017</div>
<div class="t" id="sub" style="left:11px;top:66.4px;font-size:18.45px;font-weight:bold;font-family:'DejaVu Sans Condensed','DejaVu Sans',sans-serif">Gun makers share price and total firearms manufactured increase</div>
<div class="t" id="design" style="left:1201px;top:23.8px;font-size:12px"><span class="r">Design</span> <span style="font-family:'DejaVu Sans Condensed','DejaVu Sans',sans-serif;font-weight:bold">Frederic Fery</span></div>
<div class="t" style="left:15px;top:788px;width:62px;height:14px;background:#b4b4b4;color:#8a8a8a;font-family:'Liberation Sans',sans-serif;font-size:11px;line-height:14px;letter-spacing:0.2px;padding-left:1px;box-sizing:border-box">About Maps</div>
<div id="kpi" style="position:absolute;left:640px;top:81px;width:705px;height:106px;border:1px dotted #c8391a;box-sizing:border-box"></div>
<div class="t r" style="left:662px;top:121px;font-size:28px;-webkit-text-stroke:0.3px currentColor">758</div>
<div class="t r" style="left:809px;top:121px;font-size:28px;-webkit-text-stroke:0.3px currentColor">91</div>
<div class="t r" style="left:942px;top:121px;font-size:28px;-webkit-text-stroke:0.3px currentColor">357</div>
<div class="t" style="left:1000px;top:121px;font-size:28px;-webkit-text-stroke:0.3px currentColor;transform:scaleX(1.17);transform-origin:0 0">MM</div>
<div class="t r" style="left:1141px;top:121px;font-size:28px;-webkit-text-stroke:0.3px currentColor">317</div>
<div class="t" style="left:1199px;top:121px;font-size:28px;-webkit-text-stroke:0.3px currentColor;transform:scaleX(1.17);transform-origin:0 0">MM</div>
<div class="t" id="fat" style="left:634px;top:238px;font-size:22.5px;-webkit-text-stroke:0.25px currentColor">Fatalities per year <span class="r">on the rise</span></div>
<div class="t" id="tot1" style="left:635px;top:553px;font-size:22.5px;-webkit-text-stroke:0.25px currentColor;letter-spacing:0.5px">Total firearms</div>
<div class="t r" id="tot2" style="left:634px;top:586px;font-size:22.5px;-webkit-text-stroke:0.25px currentColor;letter-spacing:0.4px">manufactured</div>
<div class="t serif" id="gs" style="left:1025px;top:538px;font-size:24px;-webkit-text-stroke:0.25px currentColor">Gun stock <span class="r">rise after attacks</span></div>
<div class="t serif" style="left:1025px;top:615px;font-size:21px;-webkit-text-stroke:0.25px currentColor;line-height:22.6px">Sturm Ruger and<br>American Outdoor</div>
<div class="t serif r" style="left:1110px;top:680.5px;font-size:27px;-webkit-text-stroke:0.2px currentColor">3% stock rise</div>
<div class="t serif" style="left:1025px;top:725px;font-size:15px;font-style:italic;-webkit-text-stroke:0.2px currentColor;line-height:16.2px">Traders bet on a pickup in arms sales ahead of<br>potentially tighter regulations</div>
<div class="t" id="foot" style="left:813px;top:849px;font-size:12.2px;line-height:17.8px"><span style="color:#b5301a">Data sources:</span> Mother Jones’ report: <u style="color:#4257d6;text-decoration-color:#6a35b8">https://goo.gl/xmuCiB,</u>&nbsp; ATF Annual firearm report:<br><u style="color:#4257d6;text-decoration-color:#6a35b8">https://goo.gl/zZuw8n,</u> Nasdaq - <span style="color:#b5301a">Icons:</span> <u style="color:#4257d6;text-decoration-color:#6a35b8">https://www.flaticon.com/</u></div>
<svg style="position:absolute;left:630px;top:260px" width="720" height="265" viewBox="0 0 720 265">
<defs><linearGradient id="g0" gradientUnits="userSpaceOnUse" x1="40.0" y1="202.3" x2="75.2" y2="208.7"><stop offset="0" stop-color="#ebb39f"/><stop offset="1" stop-color="#ebb6a2"/></linearGradient><linearGradient id="g1" gradientUnits="userSpaceOnUse" x1="75.2" y1="208.7" x2="76.2" y2="152.1"><stop offset="0" stop-color="#ebb6a2"/><stop offset="1" stop-color="#e29175"/></linearGradient><linearGradient id="g2" gradientUnits="userSpaceOnUse" x1="76.2" y1="152.1" x2="115.3" y2="176.8"><stop offset="0" stop-color="#e29175"/><stop offset="1" stop-color="#e8a78f"/></linearGradient><linearGradient id="g3" gradientUnits="userSpaceOnUse" x1="115.3" y1="176.8" x2="127.5" y2="209.7"><stop offset="0" stop-color="#e8a78f"/><stop offset="1" stop-color="#ebb7a3"/></linearGradient><linearGradient id="g4" gradientUnits="userSpaceOnUse" x1="127.5" y1="209.7" x2="143.3" y2="205.9"><stop offset="0" stop-color="#ebb7a3"/><stop offset="1" stop-color="#ebb5a1"/></linearGradient><linearGradient id="g5" gradientUnits="userSpaceOnUse" x1="143.3" y1="205.9" x2="160.8" y2="209.5"><stop offset="0" stop-color="#ebb5a1"/><stop offset="1" stop-color="#ebb6a2"/></linearGradient><linearGradient id="g6" gradientUnits="userSpaceOnUse" x1="160.8" y1="209.5" x2="172.7" y2="199.1"><stop offset="0" stop-color="#ebb6a2"/><stop offset="1" stop-color="#eab29d"/></linearGradient><linearGradient id="g7" gradientUnits="userSpaceOnUse" x1="172.7" y1="199.1" x2="187.7" y2="195.1"><stop offset="0" stop-color="#eab29d"/><stop offset="1" stop-color="#eab09b"/></linearGradient><linearGradient id="g8" gradientUnits="userSpaceOnUse" x1="187.7" y1="195.1" x2="212.4" y2="144.9"><stop offset="0" stop-color="#eab09b"/><stop offset="1" stop-color="#e08b6d"/></linearGradient><linearGradient id="g9" gradientUnits="userSpaceOnUse" x1="212.4" y1="144.9" x2="213.2" y2="192.2"><stop offset="0" stop-color="#e08b6d"/><stop offset="1" stop-color="#eaaf99"/></linearGradient><linearGradient id="g10" gradientUnits="userSpaceOnUse" x1="213.2" y1="192.2" x2="222.2" y2="216.5"><stop offset="0" stop-color="#eaaf99"/><stop offset="1" stop-color="#ecb9a6"/></linearGradient><linearGradient id="g11" gradientUnits="userSpaceOnUse" x1="222.2" y1="216.5" x2="231.5" y2="213.4"><stop offset="0" stop-color="#ecb9a6"/><stop offset="1" stop-color="#ecb8a5"/></linearGradient><linearGradient id="g12" gradientUnits="userSpaceOnUse" x1="231.5" y1="213.4" x2="245.1" y2="197.6"><stop offset="0" stop-color="#ecb8a5"/><stop offset="1" stop-color="#eab19c"/></linearGradient><linearGradient id="g13" gradientUnits="userSpaceOnUse" x1="245.1" y1="197.6" x2="247.0" y2="217.2"><stop offset="0" stop-color="#eab19c"/><stop offset="1" stop-color="#ecbaa7"/></linearGradient><linearGradient id="g14" gradientUnits="userSpaceOnUse" x1="247.0" y1="217.2" x2="253.0" y2="194.3"><stop offset="0" stop-color="#ecbaa7"/><stop offset="1" stop-color="#eab09a"/></linearGradient><linearGradient id="g15" gradientUnits="userSpaceOnUse" x1="253.0" y1="194.3" x2="260.9" y2="213.6"><stop offset="0" stop-color="#eab09a"/><stop offset="1" stop-color="#ecb8a5"/></linearGradient><linearGradient id="g16" gradientUnits="userSpaceOnUse" x1="260.9" y1="213.6" x2="277.4" y2="208.6"><stop offset="0" stop-color="#ecb8a5"/><stop offset="1" stop-color="#ebb6a2"/></linearGradient><linearGradient id="g17" gradientUnits="userSpaceOnUse" x1="277.4" y1="208.6" x2="293.2" y2="208.6"><stop offset="0" stop-color="#ebb6a2"/><stop offset="1" stop-color="#ebb6a2"/></linearGradient><linearGradient id="g18" gradientUnits="userSpaceOnUse" x1="293.2" y1="208.6" x2="323.3" y2="216.9"><stop offset="0" stop-color="#ebb6a2"/><stop offset="1" stop-color="#ecbaa6"/></linearGradient><linearGradient id="g19" gradientUnits="userSpaceOnUse" x1="323.3" y1="216.9" x2="329.0" y2="212.9"><stop offset="0" stop-color="#ecbaa6"/><stop offset="1" stop-color="#ebb8a4"/></linearGradient><linearGradient id="g20" gradientUnits="userSpaceOnUse" x1="329.0" y1="212.9" x2="332.6" y2="194.3"><stop offset="0" stop-color="#ebb8a4"/><stop offset="1" stop-color="#eab09a"/></linearGradient><linearGradient id="g21" gradientUnits="userSpaceOnUse" x1="332.6" y1="194.3" x2="336.2" y2="217.2"><stop offset="0" stop-color="#eab09a"/><stop offset="1" stop-color="#ecbaa7"/></linearGradient><linearGradient id="g22" gradientUnits="userSpaceOnUse" x1="336.2" y1="217.2" x2="352.7" y2="183.6"><stop offset="0" stop-color="#ecbaa7"/><stop offset="1" stop-color="#e9ab95"/></linearGradient><linearGradient id="g23" gradientUnits="userSpaceOnUse" x1="352.7" y1="183.6" x2="356.2" y2="196.4"><stop offset="0" stop-color="#e9ab95"/><stop offset="1" stop-color="#eab19b"/></linearGradient><linearGradient id="g24" gradientUnits="userSpaceOnUse" x1="356.2" y1="196.4" x2="364.1" y2="203.6"><stop offset="0" stop-color="#eab19b"/><stop offset="1" stop-color="#ebb49f"/></linearGradient><linearGradient id="g25" gradientUnits="userSpaceOnUse" x1="364.1" y1="203.6" x2="364.1" y2="213.6"><stop offset="0" stop-color="#ebb49f"/><stop offset="1" stop-color="#ecb8a5"/></linearGradient><linearGradient id="g26" gradientUnits="userSpaceOnUse" x1="364.1" y1="213.6" x2="383.5" y2="205.0"><stop offset="0" stop-color="#ecb8a5"/><stop offset="1" stop-color="#ebb5a0"/></linearGradient><linearGradient id="g27" gradientUnits="userSpaceOnUse" x1="383.5" y1="205.0" x2="385.6" y2="213.6"><stop offset="0" stop-color="#ebb5a0"/><stop offset="1" stop-color="#ecb8a5"/></linearGradient><linearGradient id="g28" gradientUnits="userSpaceOnUse" x1="385.6" y1="213.6" x2="400.0" y2="211.0"><stop offset="0" stop-color="#ecb8a5"/><stop offset="1" stop-color="#ebb7a3"/></linearGradient><linearGradient id="g29" gradientUnits="userSpaceOnUse" x1="400.0" y1="211.0" x2="431.5" y2="205.3"><stop offset="0" stop-color="#ebb7a3"/><stop offset="1" stop-color="#ebb5a0"/></linearGradient><linearGradient id="g30" gradientUnits="userSpaceOnUse" x1="431.5" y1="205.3" x2="458.8" y2="213.9"><stop offset="0" stop-color="#ebb5a0"/><stop offset="1" stop-color="#ecb8a5"/></linearGradient><linearGradient id="g31" gradientUnits="userSpaceOnUse" x1="458.8" y1="213.9" x2="463.1" y2="169.4"><stop offset="0" stop-color="#ecb8a5"/><stop offset="1" stop-color="#e6a087"/></linearGradient><linearGradient id="g32" gradientUnits="userSpaceOnUse" x1="463.1" y1="169.4" x2="481.7" y2="203.8"><stop offset="0" stop-color="#e6a087"/><stop offset="1" stop-color="#ebb49f"/></linearGradient><linearGradient id="g33" gradientUnits="userSpaceOnUse" x1="481.7" y1="203.8" x2="494.6" y2="210.3"><stop offset="0" stop-color="#ebb49f"/><stop offset="1" stop-color="#ebb7a3"/></linearGradient><linearGradient id="g34" gradientUnits="userSpaceOnUse" x1="494.6" y1="210.3" x2="500.4" y2="210.3"><stop offset="0" stop-color="#ebb7a3"/><stop offset="1" stop-color="#ebb7a3"/></linearGradient><linearGradient id="g35" gradientUnits="userSpaceOnUse" x1="500.4" y1="210.3" x2="502.9" y2="115.7"><stop offset="0" stop-color="#ebb7a3"/><stop offset="1" stop-color="#d46450"/></linearGradient><linearGradient id="g36" gradientUnits="userSpaceOnUse" x1="502.9" y1="115.7" x2="511.8" y2="210.3"><stop offset="0" stop-color="#d46450"/><stop offset="1" stop-color="#ebb7a3"/></linearGradient><linearGradient id="g37" gradientUnits="userSpaceOnUse" x1="511.8" y1="210.3" x2="517.8" y2="190.2"><stop offset="0" stop-color="#ebb7a3"/><stop offset="1" stop-color="#eaae98"/></linearGradient><linearGradient id="g38" gradientUnits="userSpaceOnUse" x1="517.8" y1="190.2" x2="523.3" y2="211.0"><stop offset="0" stop-color="#eaae98"/><stop offset="1" stop-color="#ebb7a3"/></linearGradient><linearGradient id="g39" gradientUnits="userSpaceOnUse" x1="523.3" y1="211.0" x2="538.4" y2="202.4"><stop offset="0" stop-color="#ebb7a3"/><stop offset="1" stop-color="#ebb39f"/></linearGradient><linearGradient id="g40" gradientUnits="userSpaceOnUse" x1="538.4" y1="202.4" x2="539.1" y2="180.2"><stop offset="0" stop-color="#ebb39f"/><stop offset="1" stop-color="#e9aa93"/></linearGradient><linearGradient id="g41" gradientUnits="userSpaceOnUse" x1="539.1" y1="180.2" x2="550.5" y2="169.4"><stop offset="0" stop-color="#e9aa93"/><stop offset="1" stop-color="#e6a087"/></linearGradient><linearGradient id="g42" gradientUnits="userSpaceOnUse" x1="550.5" y1="169.4" x2="572.0" y2="211.0"><stop offset="0" stop-color="#e6a087"/><stop offset="1" stop-color="#ebb7a3"/></linearGradient><linearGradient id="g43" gradientUnits="userSpaceOnUse" x1="572.0" y1="211.0" x2="584.2" y2="213.9"><stop offset="0" stop-color="#ebb7a3"/><stop offset="1" stop-color="#ecb8a5"/></linearGradient><linearGradient id="g44" gradientUnits="userSpaceOnUse" x1="584.2" y1="213.9" x2="586.4" y2="201.0"><stop offset="0" stop-color="#ecb8a5"/><stop offset="1" stop-color="#ebb39e"/></linearGradient><linearGradient id="g45" gradientUnits="userSpaceOnUse" x1="586.4" y1="201.0" x2="592.1" y2="213.9"><stop offset="0" stop-color="#ebb39e"/><stop offset="1" stop-color="#ecb8a5"/></linearGradient><linearGradient id="g46" gradientUnits="userSpaceOnUse" x1="592.1" y1="213.9" x2="598.6" y2="186.6"><stop offset="0" stop-color="#ecb8a5"/><stop offset="1" stop-color="#e9ad96"/></linearGradient><linearGradient id="g47" gradientUnits="userSpaceOnUse" x1="598.6" y1="186.6" x2="600.3" y2="206.6"><stop offset="0" stop-color="#e9ad96"/><stop offset="1" stop-color="#ebb5a1"/></linearGradient><linearGradient id="g48" gradientUnits="userSpaceOnUse" x1="600.3" y1="206.6" x2="605.1" y2="206.6"><stop offset="0" stop-color="#ebb5a1"/><stop offset="1" stop-color="#ebb5a1"/></linearGradient><linearGradient id="g49" gradientUnits="userSpaceOnUse" x1="605.1" y1="206.6" x2="608.2" y2="132.8"><stop offset="0" stop-color="#ebb5a1"/><stop offset="1" stop-color="#dd7c62"/></linearGradient><linearGradient id="g50" gradientUnits="userSpaceOnUse" x1="608.2" y1="132.8" x2="613.1" y2="213.9"><stop offset="0" stop-color="#dd7c62"/><stop offset="1" stop-color="#ecb8a5"/></linearGradient><linearGradient id="g51" gradientUnits="userSpaceOnUse" x1="613.1" y1="213.9" x2="622.0" y2="186.1"><stop offset="0" stop-color="#ecb8a5"/><stop offset="1" stop-color="#e9ac96"/></linearGradient><linearGradient id="g52" gradientUnits="userSpaceOnUse" x1="622.0" y1="186.1" x2="633.4" y2="218.8"><stop offset="0" stop-color="#e9ac96"/><stop offset="1" stop-color="#ecbaa7"/></linearGradient><linearGradient id="g53" gradientUnits="userSpaceOnUse" x1="633.4" y1="218.8" x2="635.4" y2="209.1"><stop offset="0" stop-color="#ecbaa7"/><stop offset="1" stop-color="#ebb6a2"/></linearGradient><linearGradient id="g54" gradientUnits="userSpaceOnUse" x1="635.4" y1="209.1" x2="642.6" y2="212.7"><stop offset="0" stop-color="#ebb6a2"/><stop offset="1" stop-color="#ebb8a4"/></linearGradient><linearGradient id="g55" gradientUnits="userSpaceOnUse" x1="642.6" y1="212.7" x2="654.7" y2="186.1"><stop offset="0" stop-color="#ebb8a4"/><stop offset="1" stop-color="#e9ac96"/></linearGradient><linearGradient id="g56" gradientUnits="userSpaceOnUse" x1="654.7" y1="186.1" x2="657.1" y2="218.8"><stop offset="0" stop-color="#e9ac96"/><stop offset="1" stop-color="#ecbaa7"/></linearGradient><linearGradient id="g57" gradientUnits="userSpaceOnUse" x1="657.1" y1="218.8" x2="662.0" y2="180.1"><stop offset="0" stop-color="#ecbaa7"/><stop offset="1" stop-color="#e9aa93"/></linearGradient><linearGradient id="g58" gradientUnits="userSpaceOnUse" x1="662.0" y1="180.1" x2="663.2" y2="218.8"><stop offset="0" stop-color="#e9aa93"/><stop offset="1" stop-color="#ecbaa7"/></linearGradient><linearGradient id="g59" gradientUnits="userSpaceOnUse" x1="663.2" y1="218.8" x2="669.2" y2="199.4"><stop offset="0" stop-color="#ecbaa7"/><stop offset="1" stop-color="#eab29d"/></linearGradient><linearGradient id="g60" gradientUnits="userSpaceOnUse" x1="669.2" y1="199.4" x2="673.6" y2="55.4"><stop offset="0" stop-color="#eab29d"/><stop offset="1" stop-color="#b8404a"/></linearGradient><linearGradient id="g61" gradientUnits="userSpaceOnUse" x1="673.6" y1="55.4" x2="677.7" y2="209.1"><stop offset="0" stop-color="#b8404a"/><stop offset="1" stop-color="#ebb6a2"/></linearGradient><linearGradient id="g62" gradientUnits="userSpaceOnUse" x1="677.7" y1="209.1" x2="683.8" y2="211.5"><stop offset="0" stop-color="#ebb6a2"/><stop offset="1" stop-color="#ebb7a3"/></linearGradient><linearGradient id="g63" gradientUnits="userSpaceOnUse" x1="683.8" y1="211.5" x2="689.8" y2="220.0"><stop offset="0" stop-color="#ebb7a3"/><stop offset="1" stop-color="#ecbba8"/></linearGradient><linearGradient id="g64" gradientUnits="userSpaceOnUse" x1="689.8" y1="220.0" x2="698.3" y2="22.7"><stop offset="0" stop-color="#ecbba8"/><stop offset="1" stop-color="#992c42"/></linearGradient></defs>
<rect x="10.0" y="230.5" width="1" height="1" fill="#6a6a6a"/><rect x="28.7" y="230.5" width="1" height="1" fill="#6a6a6a"/><rect x="47.4" y="230.5" width="1" height="1" fill="#6a6a6a"/><rect x="66.2" y="230.5" width="1" height="1" fill="#6a6a6a"/><rect x="84.9" y="230.5" width="1" height="4" fill="#6a6a6a"/><rect x="103.6" y="230.5" width="1" height="1" fill="#6a6a6a"/><rect x="122.4" y="230.5" width="1" height="1" fill="#6a6a6a"/><rect x="141.1" y="230.5" width="1" height="1" fill="#6a6a6a"/><rect x="159.8" y="230.5" width="1" height="1" fill="#6a6a6a"/><rect x="178.5" y="230.5" width="1" height="4" fill="#6a6a6a"/><rect x="197.3" y="230.5" width="1" height="1" fill="#6a6a6a"/><rect x="216.0" y="230.5" width="1" height="1" fill="#6a6a6a"/><rect x="234.7" y="230.5" width="1" height="1" fill="#6a6a6a"/><rect x="253.5" y="230.5" width="1" height="1" fill="#6a6a6a"/><rect x="272.2" y="230.5" width="1" height="4" fill="#6a6a6a"/><rect x="290.9" y="230.5" width="1" height="1" fill="#6a6a6a"/><rect x="309.7" y="230.5" width="1" height="1" fill="#6a6a6a"/><rect x="328.4" y="230.5" width="1" height="1" fill="#6a6a6a"/><rect x="347.1" y="230.5" width="1" height="1" fill="#6a6a6a"/><rect x="365.8" y="230.5" width="1" height="4" fill="#6a6a6a"/><rect x="384.6" y="230.5" width="1" height="1" fill="#6a6a6a"/><rect x="403.3" y="230.5" width="1" height="1" fill="#6a6a6a"/><rect x="422.0" y="230.5" width="1" height="1" fill="#6a6a6a"/><rect x="440.8" y="230.5" width="1" height="1" fill="#6a6a6a"/><rect x="459.5" y="230.5" width="1" height="4" fill="#6a6a6a"/><rect x="478.2" y="230.5" width="1" height="1" fill="#6a6a6a"/><rect x="497.0" y="230.5" width="1" height="1" fill="#6a6a6a"/><rect x="515.7" y="230.5" width="1" height="1" fill="#6a6a6a"/><rect x="534.4" y="230.5" width="1" height="1" fill="#6a6a6a"/><rect x="553.2" y="230.5" width="1" height="4" fill="#6a6a6a"/><rect x="571.9" y="230.5" width="1" height="1" fill="#6a6a6a"/><rect x="590.6" y="230.5" width="1" height="1" fill="#6a6a6a"/><rect x="609.3" y="230.5" width="1" height="1" fill="#6a6a6a"/><rect x="628.1" y="230.5" width="1" height="1" fill="#6a6a6a"/><rect x="646.8" y="230.5" width="1" height="4" fill="#6a6a6a"/><rect x="665.5" y="230.5" width="1" height="1" fill="#6a6a6a"/><rect x="684.3" y="230.5" width="1" height="1" fill="#6a6a6a"/><rect x="703.0" y="230.5" width="1" height="1" fill="#6a6a6a"/>
<g font-family="DejaVu Sans, Liberation Sans, sans-serif" font-size="11.5" fill="#bdbdbd"><text x="85.4" y="250" text-anchor="middle">1985</text><text x="179.0" y="250" text-anchor="middle">1990</text><text x="272.7" y="250" text-anchor="middle">1995</text><text x="366.3" y="250" text-anchor="middle">2000</text><text x="460.0" y="250" text-anchor="middle">2005</text><text x="553.7" y="250" text-anchor="middle">2010</text><text x="647.3" y="250" text-anchor="middle">2015</text></g>
<g stroke-width="7" stroke-linecap="round" stroke-linejoin="round" fill="none"><line x1="40.0" y1="202.3" x2="75.2" y2="208.7" stroke="url(#g0)"/><line x1="75.2" y1="208.7" x2="76.2" y2="152.1" stroke="url(#g1)"/><line x1="76.2" y1="152.1" x2="115.3" y2="176.8" stroke="url(#g2)"/><line x1="115.3" y1="176.8" x2="127.5" y2="209.7" stroke="url(#g3)"/><line x1="127.5" y1="209.7" x2="143.3" y2="205.9" stroke="url(#g4)"/><line x1="143.3" y1="205.9" x2="160.8" y2="209.5" stroke="url(#g5)"/><line x1="160.8" y1="209.5" x2="172.7" y2="199.1" stroke="url(#g6)"/><line x1="172.7" y1="199.1" x2="187.7" y2="195.1" stroke="url(#g7)"/><line x1="187.7" y1="195.1" x2="212.4" y2="144.9" stroke="url(#g8)"/><line x1="212.4" y1="144.9" x2="213.2" y2="192.2" stroke="url(#g9)"/><line x1="213.2" y1="192.2" x2="222.2" y2="216.5" stroke="url(#g10)"/><line x1="222.2" y1="216.5" x2="231.5" y2="213.4" stroke="url(#g11)"/><line x1="231.5" y1="213.4" x2="245.1" y2="197.6" stroke="url(#g12)"/><line x1="245.1" y1="197.6" x2="247.0" y2="217.2" stroke="url(#g13)"/><line x1="247.0" y1="217.2" x2="253.0" y2="194.3" stroke="url(#g14)"/><line x1="253.0" y1="194.3" x2="260.9" y2="213.6" stroke="url(#g15)"/><line x1="260.9" y1="213.6" x2="277.4" y2="208.6" stroke="url(#g16)"/><line x1="277.4" y1="208.6" x2="293.2" y2="208.6" stroke="url(#g17)"/><line x1="293.2" y1="208.6" x2="323.3" y2="216.9" stroke="url(#g18)"/><line x1="323.3" y1="216.9" x2="329.0" y2="212.9" stroke="url(#g19)"/><line x1="329.0" y1="212.9" x2="332.6" y2="194.3" stroke="url(#g20)"/><line x1="332.6" y1="194.3" x2="336.2" y2="217.2" stroke="url(#g21)"/><line x1="336.2" y1="217.2" x2="352.7" y2="183.6" stroke="url(#g22)"/><line x1="352.7" y1="183.6" x2="356.2" y2="196.4" stroke="url(#g23)"/><line x1="356.2" y1="196.4" x2="364.1" y2="203.6" stroke="url(#g24)"/><line x1="364.1" y1="203.6" x2="364.1" y2="213.6" stroke="url(#g25)"/><line x1="364.1" y1="213.6" x2="383.5" y2="205.0" stroke="url(#g26)"/><line x1="383.5" y1="205.0" x2="385.6" y2="213.6" stroke="url(#g27)"/><line x1="385.6" y1="213.6" x2="400.0" y2="211.0" stroke="url(#g28)"/><line x1="400.0" y1="211.0" x2="431.5" y2="205.3" stroke="url(#g29)"/><line x1="431.5" y1="205.3" x2="458.8" y2="213.9" stroke="url(#g30)"/><line x1="458.8" y1="213.9" x2="463.1" y2="169.4" stroke="url(#g31)"/><line x1="463.1" y1="169.4" x2="481.7" y2="203.8" stroke="url(#g32)"/><line x1="481.7" y1="203.8" x2="494.6" y2="210.3" stroke="url(#g33)"/><line x1="494.6" y1="210.3" x2="500.4" y2="210.3" stroke="url(#g34)"/><line x1="500.4" y1="210.3" x2="502.9" y2="115.7" stroke="url(#g35)"/><line x1="502.9" y1="115.7" x2="511.8" y2="210.3" stroke="url(#g36)"/><line x1="511.8" y1="210.3" x2="517.8" y2="190.2" stroke="url(#g37)"/><line x1="517.8" y1="190.2" x2="523.3" y2="211.0" stroke="url(#g38)"/><line x1="523.3" y1="211.0" x2="538.4" y2="202.4" stroke="url(#g39)"/><line x1="538.4" y1="202.4" x2="539.1" y2="180.2" stroke="url(#g40)"/><line x1="539.1" y1="180.2" x2="550.5" y2="169.4" stroke="url(#g41)"/><line x1="550.5" y1="169.4" x2="572.0" y2="211.0" stroke="url(#g42)"/><line x1="572.0" y1="211.0" x2="584.2" y2="213.9" stroke="url(#g43)"/><line x1="584.2" y1="213.9" x2="586.4" y2="201.0" stroke="url(#g44)"/><line x1="586.4" y1="201.0" x2="592.1" y2="213.9" stroke="url(#g45)"/><line x1="592.1" y1="213.9" x2="598.6" y2="186.6" stroke="url(#g46)"/><line x1="598.6" y1="186.6" x2="600.3" y2="206.6" stroke="url(#g47)"/><line x1="600.3" y1="206.6" x2="605.1" y2="206.6" stroke="url(#g48)"/><line x1="605.1" y1="206.6" x2="608.2" y2="132.8" stroke="url(#g49)"/><line x1="608.2" y1="132.8" x2="613.1" y2="213.9" stroke="url(#g50)"/><line x1="613.1" y1="213.9" x2="622.0" y2="186.1" stroke="url(#g51)"/><line x1="622.0" y1="186.1" x2="633.4" y2="218.8" stroke="url(#g52)"/><line x1="633.4" y1="218.8" x2="635.4" y2="209.1" stroke="url(#g53)"/><line x1="635.4" y1="209.1" x2="642.6" y2="212.7" stroke="url(#g54)"/><line x1="642.6" y1="212.7" x2="654.7" y2="186.1" stroke="url(#g55)"/><line x1="654.7" y1="186.1" x2="657.1" y2="218.8" stroke="url(#g56)"/><line x1="657.1" y1="218.8" x2="662.0" y2="180.1" stroke="url(#g57)"/><line x1="662.0" y1="180.1" x2="663.2" y2="218.8" stroke="url(#g58)"/><line x1="663.2" y1="218.8" x2="669.2" y2="199.4" stroke="url(#g59)"/><line x1="669.2" y1="199.4" x2="673.6" y2="55.4" stroke="url(#g60)"/><line x1="673.6" y1="55.4" x2="677.7" y2="209.1" stroke="url(#g61)"/><line x1="677.7" y1="209.1" x2="683.8" y2="211.5" stroke="url(#g62)"/><line x1="683.8" y1="211.5" x2="689.8" y2="220.0" stroke="url(#g63)"/><line x1="689.8" y1="220.0" x2="698.3" y2="22.7" stroke="url(#g64)"/></g>
<g stroke="#c8c8c8" stroke-width="1"><line x1="70.3" y1="90.0" x2="75.0" y2="139.0"/><circle cx="75.0" cy="139.0" r="2" fill="#d0d0d0" stroke="none"/><line x1="233.4" y1="82.0" x2="216.2" y2="133.0"/><circle cx="216.2" cy="133.0" r="2" fill="#d0d0d0" stroke="none"/><line x1="331.0" y1="144.4" x2="345.6" y2="172.0"/><circle cx="345.6" cy="172.0" r="2" fill="#d0d0d0" stroke="none"/><line x1="473.0" y1="91.0" x2="491.8" y2="107.0"/><circle cx="491.8" cy="107.0" r="2" fill="#d0d0d0" stroke="none"/><line x1="641.7" y1="70.6" x2="662.3" y2="59.5"/><circle cx="662.3" cy="59.5" r="2" fill="#d0d0d0" stroke="none"/><line x1="578.8" y1="123.8" x2="598.2" y2="130.1"/><circle cx="598.2" cy="130.1" r="2" fill="#d0d0d0" stroke="none"/><line x1="680.3" y1="24.3" x2="698.3" y2="22.3"/><circle cx="698.3" cy="22.3" r="2" fill="#d0d0d0" stroke="none"/></g>
<g font-family="Liberation Sans, sans-serif" font-size="10.5" font-weight="bold" fill="#ffffff"><text x="69.5" y="64.3" text-anchor="middle">San Ysidro</text><text x="69.5" y="78.0" text-anchor="middle">McDonald’s</text><text x="231.3" y="71.2" text-anchor="middle">Luby’s restaurant</text><text x="328.9" y="118.4" text-anchor="middle">Columbine High</text><text x="328.9" y="132.1" text-anchor="middle">School</text><text x="416.3" y="96.0" text-anchor="middle">Virginia Tech</text><text x="573.0" y="66.9" text-anchor="middle">Orlando night</text><text x="573.0" y="80.6" text-anchor="middle">club</text><text x="578.8" y="112.7" text-anchor="middle">Sandy Hook</text><text x="617.4" y="29.2" text-anchor="middle">Las Vegas</text></g>
</svg>
<svg style="position:absolute;left:630px;top:570px" width="370" height="235" viewBox="0 0 370 235">
<g fill="#932c3e"><rect x="4.8" y="160.7" width="10.2" height="52.3"/><rect x="17.6" y="159.0" width="10.2" height="54.0"/><rect x="30.5" y="157.8" width="10.2" height="55.2"/><rect x="43.3" y="155.4" width="10.2" height="57.6"/><rect x="56.2" y="154.5" width="10.2" height="58.5"/><rect x="69.0" y="153.0" width="10.2" height="60.0"/><rect x="81.9" y="149.7" width="10.2" height="63.3"/><rect x="94.8" y="149.7" width="10.2" height="63.3"/><rect x="107.6" y="148.8" width="10.2" height="64.2"/><rect x="120.4" y="148.0" width="10.2" height="65.0"/><rect x="133.3" y="147.0" width="10.2" height="66.0"/><rect x="146.1" y="145.9" width="10.2" height="67.1"/><rect x="159.0" y="145.0" width="10.2" height="68.0"/><rect x="171.8" y="142.9" width="10.2" height="70.1"/><rect x="184.7" y="142.9" width="10.2" height="70.1"/><rect x="197.5" y="142.9" width="10.2" height="70.1"/><rect x="210.4" y="140.8" width="10.2" height="72.2"/><rect x="223.2" y="139.0" width="10.2" height="74.0"/><rect x="236.1" y="136.0" width="10.2" height="77.0"/><rect x="248.9" y="134.9" width="10.2" height="78.1"/><rect x="261.8" y="132.8" width="10.2" height="80.2"/><rect x="274.6" y="123.0" width="10.2" height="90.0"/><rect x="287.5" y="120.9" width="10.2" height="92.1"/><rect x="300.3" y="115.9" width="10.2" height="97.1"/><rect x="313.2" y="114.1" width="10.2" height="98.9"/><rect x="326.0" y="96.9" width="10.2" height="116.1"/><rect x="338.9" y="60.9" width="10.2" height="152.1"/><rect x="351.8" y="21.1" width="10.2" height="191.9"/></g>
<g font-family="DejaVu Sans, Liberation Sans, sans-serif" font-size="12" font-weight="bold" fill="#fff"><text x="4" y="155" textLength="63.5" lengthAdjust="spacingAndGlyphs">2,932,655</text><text x="292" y="15" textLength="71" lengthAdjust="spacingAndGlyphs">10,844,792</text></g>
<g font-family="DejaVu Sans, Liberation Sans, sans-serif" font-size="11.5" fill="#bdbdbd"><text x="47.9" y="229.5">2003</text><text x="85.6" y="229.5">1991</text><text x="124.8" y="229.5">1998</text><text x="162.3" y="229.5">2007</text><text x="201.5" y="229.5">1999</text><text x="240.0" y="229.5">1989</text><text x="278.7" y="229.5">1994</text><text x="316.7" y="229.5">2011</text><text x="8" y="230" font-size="12.5" textLength="10.2" lengthAdjust="spacingAndGlyphs">1986</text></g>
</svg>
<svg style="position:absolute;left:715px;top:98px" width="80" height="72" viewBox="0 0 1010 909"><path d="M330,330 L268,440 Q255,455 235,445 L160,395 Q120,380 108,420 L105,480 Q105,505 125,525 L200,595 Q225,615 255,600 L370,550 Q395,545 405,570 L515,815 Q530,840 560,835 L765,790 Q795,780 790,740 Q780,710 745,710 L650,700 Q620,690 620,655 Q625,625 660,615 L805,585 Q835,575 840,540 L855,420 Q855,385 820,378 Q785,375 770,400 L755,440 Q740,460 700,462 Q660,458 655,420 L655,380 Q660,335 700,305 L810,205 Q830,180 810,150 Q790,125 745,128 L525,215 Q510,215 505,195 Q490,140 450,110 Q400,80 340,105 Q280,135 272,210 Q270,270 320,305 Z" fill="none" stroke="#fff" stroke-width="55" stroke-linejoin="round"/></svg>
<svg style="position:absolute;left:860px;top:96px" width="75" height="72" viewBox="0 0 947 909"><g fill="none" stroke="#fff" stroke-width="50" stroke-linecap="round"><circle cx="467" cy="452" r="280"/><circle cx="467" cy="452" r="140"/><path d="M467,85 V70 M467,85 L467,370 M467,535 L467,835 M85,452 L385,452 M550,452 L850,452"/></g><circle cx="467" cy="452" r="45" fill="#fff"/></svg>
<svg style="position:absolute;left:1058px;top:106px" width="75" height="54" viewBox="0 0 1262 909"><g fill="none" stroke="#fff" stroke-width="65" stroke-linejoin="round" stroke-linecap="round"><path d="M125,390 L200,300 L232,132 L1120,132 L1062,300 L1020,315 L955,390 Z"/><path d="M210,395 L128,775 L372,775 L455,395"/><path d="M450,565 L620,565 Q700,560 735,480 L745,395"/><path d="M525,425 L590,485 M325,205 L362,300 M440,205 L478,300"/></g></svg>
<svg style="position:absolute;left:1266px;top:102px" width="75" height="63" viewBox="0 0 1082 909"><g fill="#fff"><circle cx="315" cy="205" r="133"/><circle cx="780" cy="205" r="133"/><path d="M90,665 L90,490 Q90,345 250,345 L420,345 L420,720 Q250,700 90,665 Z"/><path d="M1005,665 L1005,490 Q1005,345 845,345 L680,345 L680,720 Q845,700 1005,665 Z"/></g><g fill="#fff" stroke="#000" stroke-width="60"><circle cx="553" cy="345" r="135"/><path d="M320,800 L320,640 Q320,490 470,490 L640,490 Q790,490 790,640 L790,800 Q555,870 320,800 Z"/></g><g fill="#fff"><circle cx="553" cy="345" r="135"/><path d="M320,800 L320,640 Q320,490 470,490 L640,490 Q790,490 790,640 L790,800 Q555,870 320,800 Z"/></g></svg>
<svg style="position:absolute;left:1232px;top:586px" width="98" height="70" viewBox="0 0 1273 909"><defs><clipPath id="cpst"><polygon points="155,545 365,365 640,585 1045,320 1045,815 155,815"/></clipPath></defs><g clip-path="url(#cpst)" fill="#fff"><rect x="230" y="300" width="50" height="520"/><rect x="330" y="300" width="48" height="520"/><rect x="428" y="300" width="50" height="520"/><rect x="528" y="300" width="47" height="520"/><rect x="625" y="300" width="47" height="520"/><rect x="722" y="300" width="48" height="520"/><rect x="820" y="300" width="53" height="520"/><rect x="923" y="300" width="52" height="520"/></g><polygon points="155,545 365,365 640,585 1045,320 1045,815 155,815" fill="none" stroke="#fff" stroke-width="45" stroke-linejoin="round"/><polyline points="110,415 345,215 640,470 1060,195" fill="none" stroke="#fff" stroke-width="65" stroke-linecap="round" stroke-linejoin="round"/><path d="M1000,100 L1175,92 L1102,250 Z" fill="#fff" stroke="#fff" stroke-width="20" stroke-linejoin="round"/></svg>
</body></html>
